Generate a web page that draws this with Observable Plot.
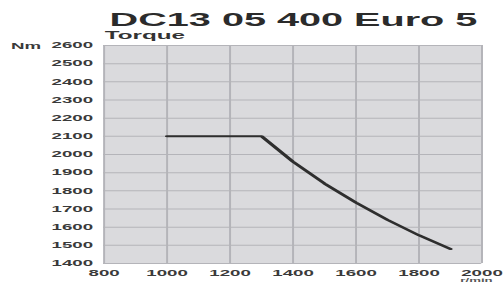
<!DOCTYPE html>
<html>
<head>
<meta charset="utf-8">
<script src="https://cdn.jsdelivr.net/npm/d3@7"></script>
<script src="https://cdn.jsdelivr.net/npm/@observablehq/plot@0.6"></script>
<style>
  html, body { margin: 0; padding: 0; background: #fff; overflow: hidden; }
  #wrap { position: relative; width: 229px; height: 282px; transform: scaleX(2.2009); transform-origin: 0 0; font-family: "Liberation Sans", Arial, sans-serif; font-weight: bold; }
  #title { position: absolute; left: 49.8px; top: 11.3px; font-size: 18px; line-height: 18px; color: #2b2b2b; white-space: nowrap; }
  #sub { position: absolute; left: 47.6px; top: 30.3px; font-size: 11px; line-height: 11px; color: #333; white-space: nowrap; }
  #chart { position: absolute; left: 0; top: 42px; }
</style>
</head>
<body>
<div id="wrap">
  <div id="title">DC13 05 400 Euro 5</div>
  <div id="sub">Torque</div>
  <div id="chart"></div>
</div>
<script>
const rpm = [1000, 1300, 1400, 1500, 1600, 1700, 1800, 1900];
const torque = [2100, 2100, 1960, 1840, 1735, 1640, 1555, 1480];
const xTicks = [800, 1000, 1200, 1400, 1600, 1800, 2000];
const yTicks = [1400, 1500, 1600, 1700, 1800, 1900, 2000, 2100, 2200, 2300, 2400, 2500, 2600];
const yUnit = "Nm";
const xUnit = "r/min";

const data = rpm.map((r, i) => ({rpm: r, torque: torque[i]}));

const chart = Plot.plot({
  width: 229,
  height: 240,
  marginLeft: 46.8,
  marginRight: 10.5,
  marginTop: 3,
  marginBottom: 19,
  style: {fontFamily: "Liberation Sans, Arial, sans-serif", fontWeight: "bold", fontSize: "8.5px", color: "#3a3a3a", background: "transparent"},
  x: {domain: [800, 2000], ticks: xTicks, tickFormat: d => String(d), label: null},
  y: {domain: [1400, 2600], ticks: yTicks, tickFormat: d => String(d), label: null},
  marks: [
    Plot.frame({fill: "#dadadd", stroke: null}),
    Plot.gridX(xTicks, {stroke: "#b4b4b9", strokeOpacity: 1, strokeWidth: 0.9}),
    Plot.gridY(yTicks, {stroke: "#b4b4b9", strokeOpacity: 1, strokeWidth: 1}),
    Plot.axisX(xTicks, {tickSize: 0, tickPadding: 6, tickFormat: d => String(d), label: null}),
    Plot.axisY(yTicks, {tickSize: 0, tickPadding: 5, tickFormat: d => String(d), label: null}),
    Plot.line(data, {x: "rpm", y: "torque", stroke: "#2e2e2e", strokeWidth: 2}),
    Plot.text([yUnit], {frameAnchor: "top-left", text: d => d, textAnchor: "start", lineAnchor: "middle", dx: -42.3, dy: 0.5, fontSize: 8.5, fill: "#3a3a3a"}),
    Plot.text([xUnit], {frameAnchor: "bottom-right", text: d => d, textAnchor: "middle", lineAnchor: "top", dx: -2.5, dy: 14, fontSize: 6, fill: "#555"})
  ]
});
document.getElementById("chart").appendChild(chart);
</script>
</body>
</html>
